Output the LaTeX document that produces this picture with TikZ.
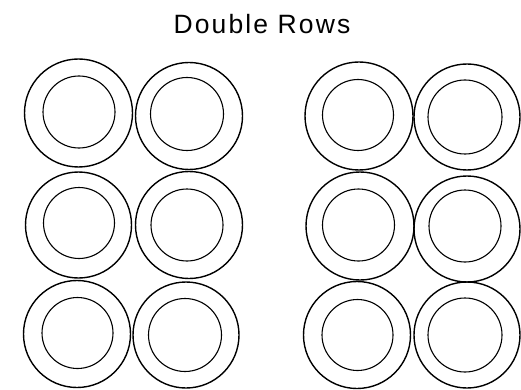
\documentclass[tikz,border=0pt]{standalone}
\usepackage{fontspec}
\setmainfont{Liberation Sans}
\begin{document}
\begin{tikzpicture}[x=1pt,y=-1pt,
  outerring/.style={circle,draw,line width=1.4pt,inner sep=0pt,minimum size=#1},
  innerring/.style={circle,draw,line width=1.1pt,inner sep=0pt,minimum size=#1}]
\useasboundingbox (0,0) rectangle (521,390);
\node[font=\fontsize{26.5}{30}\selectfont\addfontfeature{LetterSpace=8}] (title) at (262,24) {Double Rows};
% outer rings
\node[outerring=108pt] (o11) at (78.5,113) {};
\node[outerring=106pt] (o21) at (78.5,225) {};
\node[outerring=107pt] (o31) at (77,334) {};
\node[outerring=107pt] (o12) at (189,116) {};
\node[outerring=107pt] (o22) at (189,225) {};
\node[outerring=106pt] (o32) at (186,335) {};
\node[outerring=108pt] (o13) at (359,116) {};
\node[outerring=108pt] (o23) at (360,226) {};
\node[outerring=107pt] (o33) at (357,335) {};
\node[outerring=106pt] (o14) at (467,117) {};
\node[outerring=106pt] (o24) at (467,229) {};
\node[outerring=106pt] (o34) at (467,335) {};
% inner rings
\node[innerring=72pt] (i11) at (79,112) {};
\node[innerring=71pt] (i21) at (79,223) {};
\node[innerring=71pt] (i31) at (77.5,333) {};
\node[innerring=73pt] (i12) at (187,114) {};
\node[innerring=72pt] (i22) at (187,225) {};
\node[innerring=73pt] (i32) at (185,335) {};
\node[innerring=71pt] (i13) at (358,115) {};
\node[innerring=72pt] (i23) at (358.5,225) {};
\node[innerring=71pt] (i33) at (357.5,335) {};
\node[innerring=74pt] (i14) at (465,117) {};
\node[innerring=72pt] (i24) at (465,226) {};
\node[innerring=74pt] (i34) at (465,335) {};
\end{tikzpicture}
\end{document}
